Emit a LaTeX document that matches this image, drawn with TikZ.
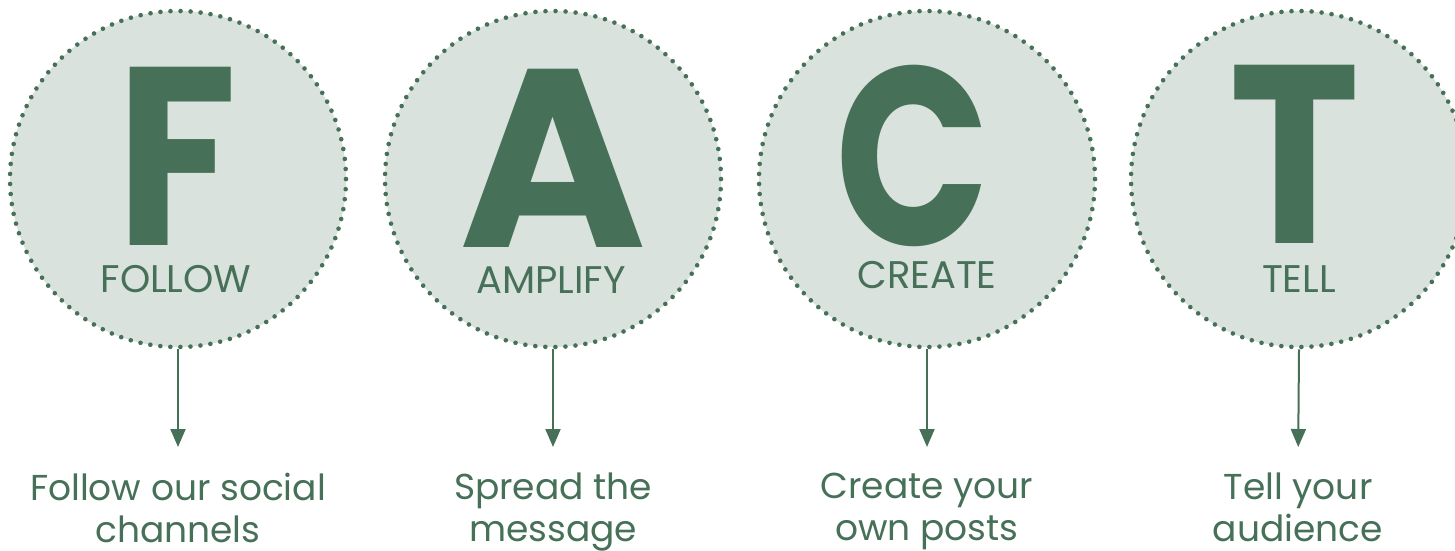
\documentclass[tikz,border=0pt]{standalone}
\usepackage{fontspec}
\setmainfont{Poppins}
\usetikzlibrary{arrows.meta}
\definecolor{fgreen}{RGB}{70,112,88}
\definecolor{cfill}{RGB}{217,226,220}
\tikzset{
  bubble/.style={circle, minimum size=336pt, inner sep=0pt, fill=cfill, draw=fgreen,
    line width=4.6pt, line cap=round, dash pattern=on 0pt off 10.053pt},
  bigletter/.style={anchor=base, inner sep=0pt, text depth=0pt, text=fgreen, font=\fontsize{254}{254}\selectfont\bfseries},
  caplabel/.style={anchor=base, inner sep=0pt, text depth=0pt, text=fgreen, font=\fontsize{38.5}{40}\selectfont},
  desc/.style={anchor=north, inner sep=0pt, text=fgreen, align=center, font=\fontsize{36}{41.5}\selectfont},
  arr/.style={draw=fgreen, line width=2pt, -{Triangle[width=15pt,length=18pt]}}
}
\begin{document}
\begin{tikzpicture}[x=1pt,y=-1pt]
\useasboundingbox (0,0) rectangle (1455,550);
\node[bubble] (c1) at (178,179) {};
\node[bubble] (c2) at (553,179) {};
\node[bubble] (c3) at (927,179) {};
\node[bubble] (c4) at (1299,179) {};
\node[bigletter] (lf) at (177,245) {\scalebox{0.87}[1]{F}};
\node[bigletter] (la) at (553,247) {A};
\node[bigletter] (lc) at (913,245) {\scalebox{0.8}[1]{C}};
\node[bigletter] (lt) at (1295,243) {\scalebox{0.87}[1]{T}};
\node[caplabel] (w1) at (176,292) {FOLLOW};
\node[caplabel] (w2) at (551,293) {AMPLIFY};
\node[caplabel] (w3) at (927,288) {CREATE};
\node[caplabel] (w4) at (1299,292) {TELL};
\node[desc] (d1) at (178,473) {Follow our social\\channels};
\node[desc] (d2) at (553,473) {Spread the\\message};
\node[desc] (d3) at (927,473) {Create your\\own posts};
\node[desc] (d4) at (1298,473) {Tell your\\audience};
\draw[arr, shorten >=26pt] (c1.south) -- (d1.north);
\draw[arr, shorten >=26pt] (c2.south) -- (d2.north);
\draw[arr, shorten >=26pt] (c3.south) -- (d3.north);
\draw[arr, shorten >=26pt] (c4.south) -- (d4.north);
\end{tikzpicture}
\end{document}
